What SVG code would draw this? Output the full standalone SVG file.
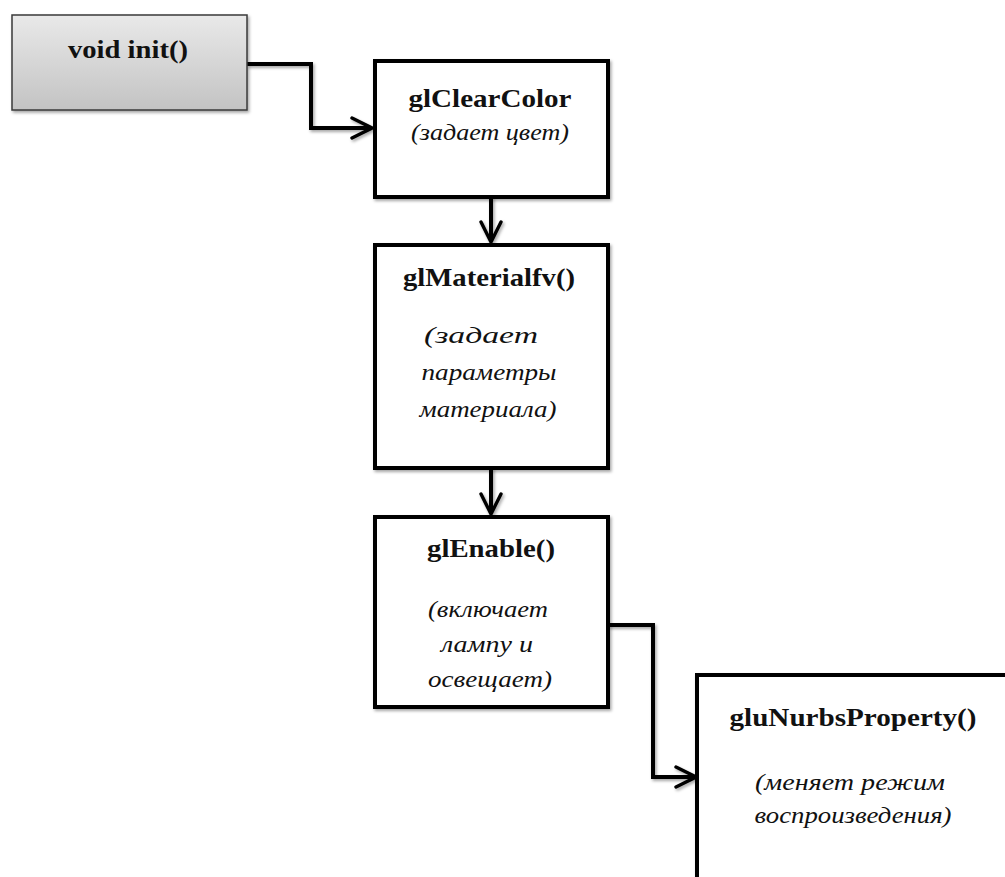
<svg xmlns="http://www.w3.org/2000/svg" width="1005" height="877" viewBox="0 0 1005 877">
  <defs>
    <linearGradient id="gradInit" x1="0" y1="0" x2="0" y2="1">
      <stop offset="0" stop-color="#e9e9e9"/>
      <stop offset="1" stop-color="#c3c3c3"/>
    </linearGradient>
    <filter id="shadow" x="-10%" y="-10%" width="130%" height="130%">
      <feDropShadow dx="1.5" dy="2" stdDeviation="1.5" flood-color="#000" flood-opacity="0.35"/>
    </filter>
    <marker id="chev" viewBox="0 0 12 12" refX="11" refY="6" markerWidth="6" markerHeight="6" markerUnits="strokeWidth" orient="auto">
      <path d="M1,1 L11,6 L1,11" fill="none" stroke="#000" stroke-width="1.7" stroke-linecap="round" stroke-linejoin="miter"/>
    </marker>
  </defs>
  <style>
    .box { fill: #fff; stroke: #000; stroke-width: 4; }
    .title { font-family: "Liberation Serif", "Times New Roman", serif; font-weight: bold; font-size: 26px; fill: #111; text-anchor: middle; }
    .desc { font-family: "Liberation Serif", "Times New Roman", serif; font-style: italic; font-size: 23px; fill: #111; text-anchor: middle; }
    .wire { fill: none; stroke: #000; stroke-width: 4; stroke-linejoin: miter; }
  </style>

  <rect width="1005" height="877" fill="#fff"/>

  <!-- connectors -->
  <g id="connectors" filter="url(#shadow)">
    <path class="wire" d="M247,64 H311 V128 H372" marker-end="url(#chev)"/>
    <path class="wire" d="M491,197 V242" marker-end="url(#chev)"/>
    <path class="wire" d="M491,468 V514" marker-end="url(#chev)"/>
    <path class="wire" d="M608,625 H653 V777 H696" marker-end="url(#chev)"/>
  </g>

  <g id="node-init">
    <rect x="12" y="15" width="235" height="95" fill="url(#gradInit)" stroke="#3a3a3a" stroke-width="1.5" filter="url(#shadow)"/>
    <text class="title" x="128" y="58" textLength="120" lengthAdjust="spacingAndGlyphs">void init()</text>
  </g>

  <g id="node-glClearColor">
    <rect class="box" x="375" y="61" width="233" height="136" filter="url(#shadow)"/>
    <text class="title" x="490" y="107" textLength="163" lengthAdjust="spacingAndGlyphs">glClearColor</text>
    <text class="desc" x="490" y="140" textLength="158" lengthAdjust="spacingAndGlyphs">(задает цвет)</text>
  </g>

  <g id="node-glMaterialfv">
    <rect class="box" x="375" y="245" width="233" height="223" filter="url(#shadow)"/>
    <text class="title" x="489" y="286" textLength="172" lengthAdjust="spacingAndGlyphs">glMaterialfv()</text>
    <text class="desc" x="481" y="343" textLength="114" lengthAdjust="spacingAndGlyphs">(задает</text>
    <text class="desc" x="489" y="380" textLength="135" lengthAdjust="spacingAndGlyphs">параметры</text>
    <text class="desc" x="488" y="417" textLength="137" lengthAdjust="spacingAndGlyphs">материала)</text>
  </g>

  <g id="node-glEnable">
    <rect class="box" x="375" y="517" width="233" height="190" filter="url(#shadow)"/>
    <text class="title" x="491" y="557" textLength="128" lengthAdjust="spacingAndGlyphs">glEnable()</text>
    <text class="desc" x="488" y="617" textLength="120" lengthAdjust="spacingAndGlyphs">(включает</text>
    <text class="desc" x="487" y="652" textLength="92" lengthAdjust="spacingAndGlyphs">лампу и</text>
    <text class="desc" x="490" y="687" textLength="124" lengthAdjust="spacingAndGlyphs">освещает)</text>
  </g>

  <g id="node-gluNurbsProperty">
    <rect class="box" x="697" y="675" width="340" height="240" filter="url(#shadow)"/>
    <text class="title" x="853" y="726" textLength="247" lengthAdjust="spacingAndGlyphs">gluNurbsProperty()</text>
    <text class="desc" x="850" y="790" textLength="190" lengthAdjust="spacingAndGlyphs">(меняет режим</text>
    <text class="desc" x="853" y="823" textLength="197" lengthAdjust="spacingAndGlyphs">воспроизведения)</text>
  </g>
</svg>
